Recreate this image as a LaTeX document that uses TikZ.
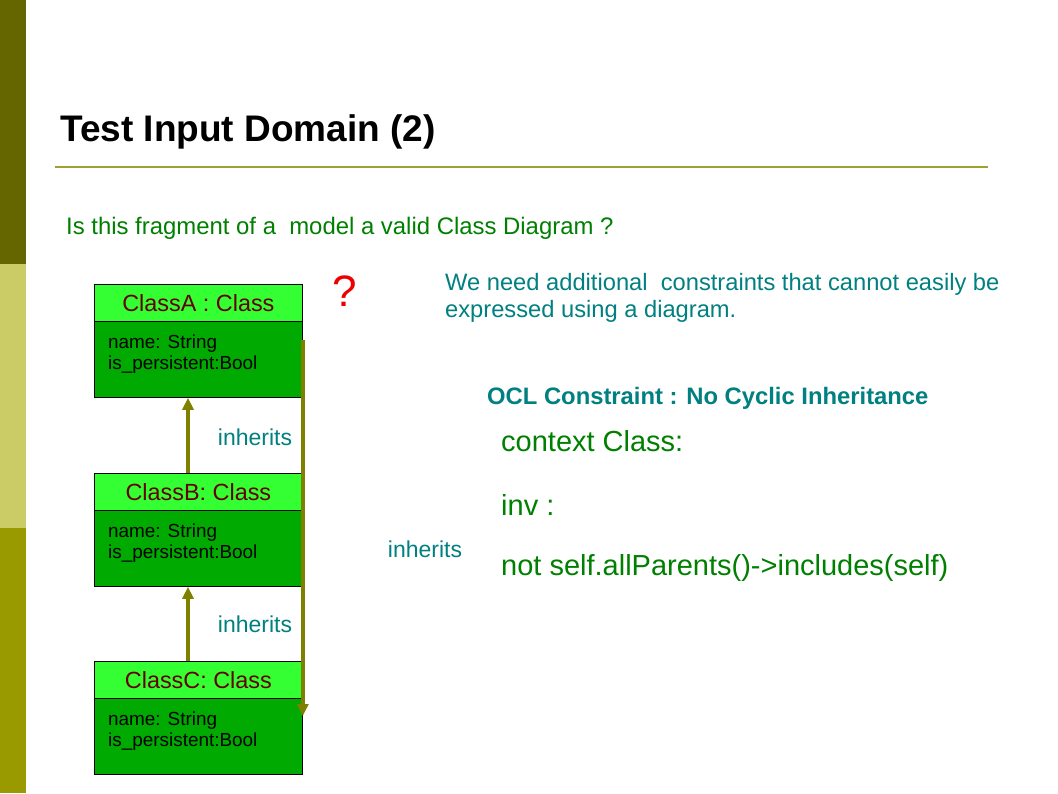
\documentclass[tikz,border=0pt]{standalone}
\usepackage{fontspec}
\setmainfont{Liberation Sans}
\usetikzlibrary{arrows.meta,calc}
\definecolor{barA}{HTML}{666600}
\definecolor{barB}{HTML}{CCCC66}
\definecolor{barC}{HTML}{999900}
\definecolor{rule}{HTML}{A0A030}
\definecolor{hdr}{HTML}{33FF33}
\definecolor{bdy}{HTML}{00AA00}
\definecolor{hdrtxt}{HTML}{660000}
\definecolor{arr}{HTML}{808000}
\definecolor{teal}{HTML}{008080}
\definecolor{grn}{HTML}{008000}
\definecolor{qred}{HTML}{EE0000}
\tikzset{
  fs/.style={font=\fontsize{#1}{#1}\selectfont},
  hdrbox/.style={draw=black, line width=0.8pt, fill=hdr, minimum width=208pt, minimum height=37pt, inner sep=0pt, text=hdrtxt, fs=23.4, anchor=north west},
  bodybox/.style={draw=black, line width=0.8pt, fill=bdy, minimum width=208pt, minimum height=76pt, inner sep=0pt, anchor=north west},
  attr/.style={font=\fontsize{18.9}{21}\selectfont, text=black, align=left, anchor=north west, inner sep=0pt},
  inh/.style={draw=arr, line width=4pt, -{Triangle[width=11pt,length=12pt]}},
  lbl/.style={text=teal, fs=23, inner sep=0pt},
}
\begin{document}
\begin{tikzpicture}[x=1pt,y=-1pt]
\useasboundingbox (0,0) rectangle (1058,793);
\fill[white] (0,0) rectangle (1058,793);
% left bar
\fill[barA] (0,0) rectangle (26,264);
\fill[barB] (0,264) rectangle (26,528);
\fill[barC] (0,528) rectangle (26,793);
% title
\node[anchor=west, font=\bfseries\fontsize{37}{44}\selectfont, inner sep=0pt] (title) at (60,132) {Test Input Domain (2)};
\draw[rule, line width=2pt] (55,167) -- (988,167);
\node[anchor=west, text=grn, fs=23.9, inner sep=0pt] (q) at (66,228) {Is this fragment of a\ \ model a valid Class Diagram ?};
% classes
\node[hdrbox] (cAh) at (94,284) {ClassA : Class};
\node[bodybox] (cAb) at (94,321) {};
\node[attr] (cAt) at (108,335) {name: String\\is\_persistent:Bool};
\node[hdrbox] (cBh) at (94,473) {ClassB: Class};
\node[bodybox] (cBb) at (94,510) {};
\node[attr] (cBt) at (108,524) {name: String\\is\_persistent:Bool};
\node[hdrbox] (cCh) at (94,661) {ClassC: Class};
\node[bodybox] (cCb) at (94,698) {};
\node[attr] (cCt) at (108,712) {name: String\\is\_persistent:Bool};
% inheritance arrows
\draw[inh] ($(cBh.north west)+(94,0)$) -- ($(cAb.south west)+(94,0)$);
\draw[inh] ($(cCh.north west)+(94,0)$) -- ($(cBb.south west)+(94,0)$);
\coordinate (lstart) at ($(cAb.north east)+(0,19)$);
\coordinate (lend) at ($(cCb.north east)+(0,18)$);
\draw[inh] (lstart) -- (lend);
\node[lbl] (i1) at (255,437) {inherits};
\node[lbl] (i2) at (255,624) {inherits};
\node[lbl] (i3) at (425,549) {inherits};
% right side
\node[text=qred, fs=44, inner sep=0pt] (qm) at (345,291) {?};
\node[anchor=north west, text=teal, font=\fontsize{23.7}{27}\selectfont, align=left, inner sep=0pt] (need) at (445,273) {We need additional\ \ constraints that cannot easily be\\expressed using a diagram.};
\node[anchor=west, text=teal, font=\bfseries\fontsize{23.8}{28}\selectfont, inner sep=0pt] (ocl) at (487,398) {OCL Constraint : No Cyclic Inheritance};
\node[anchor=west, text=grn, fs=29, inner sep=0pt] (ctx) at (501,441) {context Class:};
\node[anchor=west, text=grn, fs=29, inner sep=0pt] (inv) at (501,505) {inv :};
\node[anchor=west, text=grn, fs=29, inner sep=0pt] (expr) at (501,568) {not self.allParents()->includes(self)};
\end{tikzpicture}
\end{document}
